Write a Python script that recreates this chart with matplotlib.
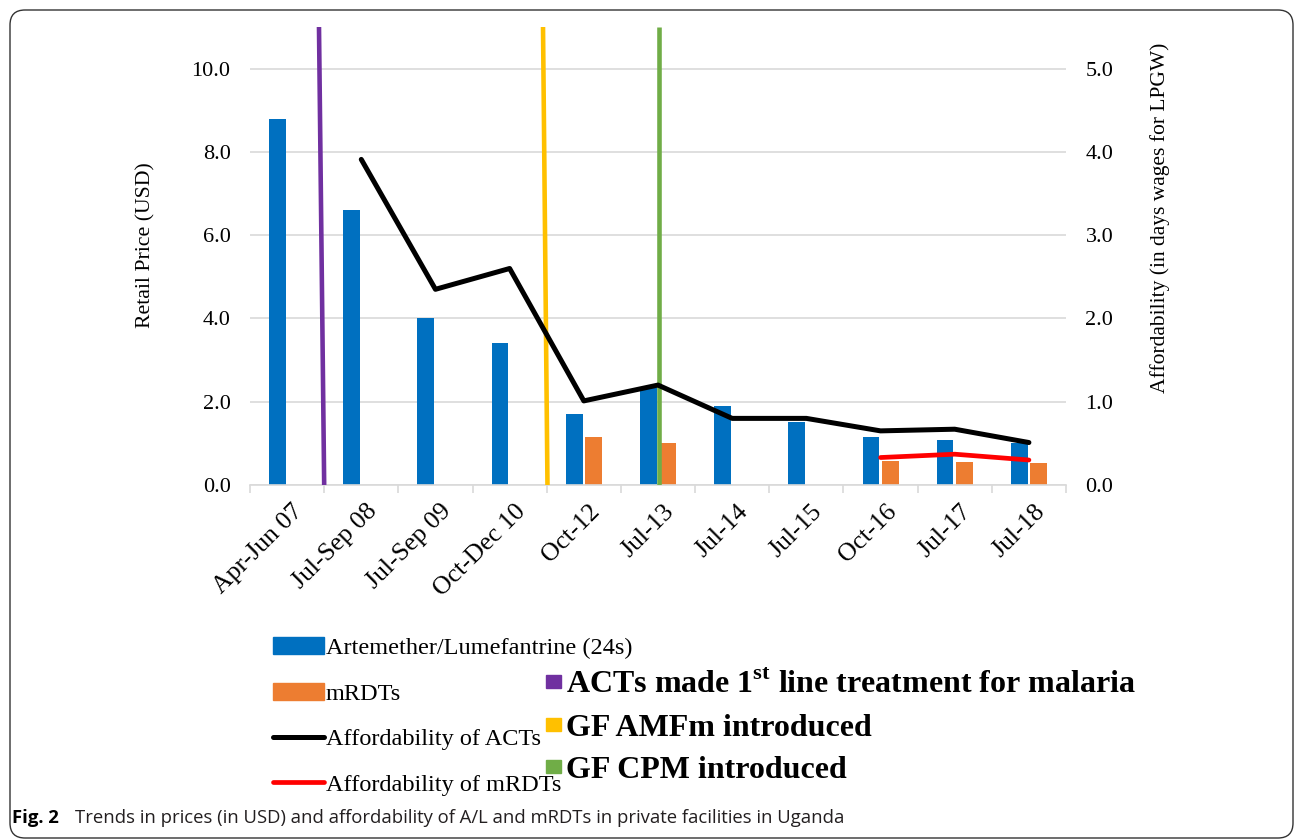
import matplotlib
matplotlib.use("Agg")
import matplotlib.pyplot as plt
from matplotlib.lines import Line2D
from matplotlib.patches import Patch, FancyBboxPatch
from matplotlib.transforms import ScaledTranslation
import numpy as np

plt.rcParams['font.family'] = ['Liberation Serif', 'DejaVu Serif']
plt.rcParams['mathtext.fontset'] = 'custom'
plt.rcParams['mathtext.bf'] = 'Liberation Serif:bold'

# data
periods = ['Apr-Jun 07', 'Jul-Sep 08', 'Jul-Sep 09', 'Oct-Dec 10', 'Oct-12', 'Jul-13',
           'Jul-14', 'Jul-15', 'Oct-16', 'Jul-17', 'Jul-18']
al_price = [8.80, 6.61, 4.00, 3.40, 1.70, 2.33, 1.90, 1.51, 1.15, 1.09, 1.02]
mrdt_price = [np.nan, np.nan, np.nan, np.nan, 1.15, 1.00, np.nan, np.nan, 0.58, 0.55, 0.53]
act_afford = [np.nan, 3.91, 2.35, 2.60, 1.01, 1.20, 0.80, 0.80, 0.65, 0.67, 0.51]
mrdt_afford = [np.nan] * 8 + [0.33, 0.37, 0.30]

# policy events: position on the category axis (top end, bottom end)
event_names = ['ACTs made 1$^{\\mathbf{st}}$ line treatment for malaria',
               'GF AMFm introduced', 'GF CPM introduced']
event_x_top = [0.43, 3.45, 5.01]
event_x_bottom = [0.50, 3.51, 5.01]
event_colors = ['#7030A0', '#FFC000', '#70AD47']

blue = '#0070C0'
orange = '#ED7D31'
grid_c = '#D9D9D9'

fig = plt.figure(figsize=(12.96, 8.39), dpi=100)
W, H = 1296, 839
ax = fig.add_axes([250 / W, 1 - 485 / H, 816 / W, 458 / H])
ax2 = ax.twinx()

x = np.arange(len(periods))
bw = 0.225
ax.bar(x - 0.13, al_price, bw, color=blue, zorder=2)
ax.bar(x + 0.13, mrdt_price, bw, color=orange, zorder=2)

for xt, xb, c in zip(event_x_top, event_x_bottom, event_colors):
    ax.plot([xt, xb], [11, 0], color=c, lw=3.3, zorder=3, solid_capstyle='butt')

ax2.plot(x, act_afford, color='black', lw=3.6, solid_capstyle='round', zorder=4)
ax2.plot(x, mrdt_afford, color='#FF0000', lw=3.4, solid_capstyle='round', zorder=4)

ax.set_xlim(-0.5, len(periods) - 0.5)
ax.set_ylim(0, 11)
ax2.set_ylim(0, 5.5)
ax.set_yticks(np.arange(0, 11, 2.0))
ax.set_yticklabels([f'{v:.1f}' for v in np.arange(0, 11, 2.0)])
ax2.set_yticks(np.arange(0, 5.5, 1.0))
ax2.set_yticklabels([f'{v:.1f}' for v in np.arange(0, 5.5, 1.0)])
ax.yaxis.grid(True, color=grid_c, lw=1.2, zorder=0)
ax.set_axisbelow(True)

for a in (ax, ax2):
    for s in a.spines.values():
        s.set_visible(False)
ax.spines['bottom'].set_visible(True)
ax.spines['bottom'].set_color(grid_c)
ax.spines['bottom'].set_linewidth(1.2)

ax.tick_params(axis='y', length=0, labelsize=16, pad=14)
ax2.tick_params(axis='y', length=0, labelsize=16, pad=14)

ax.set_xticks(x)
ax.set_xticklabels(periods, rotation=45, ha='right', va='top', rotation_mode='anchor', fontsize=18.5)
ax.set_xticks(np.arange(-0.5, len(periods)), minor=True)
ax.tick_params(axis='x', which='major', length=0, pad=11)
ax.tick_params(axis='x', which='minor', length=6, color=grid_c, width=1.2)
shift = ScaledTranslation(5 / 100, 0, fig.dpi_scale_trans)
for lab in ax.get_xticklabels():
    lab.set_transform(lab.get_transform() + shift)

ax.set_ylabel('Retail Price (USD)', fontsize=15.7)
ax.yaxis.set_label_coords((155 - 250) / 816, 0.524)
ax2.set_ylabel('Affordability (in days wages for LPGW)', fontsize=15.5)
ax2.yaxis.set_label_coords((1150 - 250) / 816, 0.583)

left_handles = [Patch(color=blue), Patch(color=orange),
                Line2D([], [], color='black', lw=3.6, solid_capstyle='round'),
                Line2D([], [], color='#FF0000', lw=3.4, solid_capstyle='round')]
left_labels = ['Artemether/Lumefantrine (24s)', 'mRDTs', 'Affordability of ACTs',
               'Affordability of mRDTs']
fig.legend(left_handles, left_labels, loc='upper left', bbox_to_anchor=(273 / W, 1 - 637 / H),
           frameon=False, fontsize=17.5, handlelength=2.1, handletextpad=0.08,
           labelspacing=0.97, borderpad=0, borderaxespad=0)

right_handles = [Patch(color=c) for c in event_colors]
fig.legend(right_handles, event_names, loc='upper left', bbox_to_anchor=(546 / W, 1 - 671 / H),
           frameon=False, prop={'size': 23, 'weight': 'bold'}, handlelength=0.47,
           handleheight=0.25, handletextpad=0.15, labelspacing=0.42, borderpad=0,
           borderaxespad=0)

fig.text(12 / W, 1 - 818 / H, 'Fig. 2', fontsize=13.3, fontweight='bold',
         family=['Open Sans', 'DejaVu Sans'], va='center')
fig.text(75 / W, 1 - 818 / H,
         'Trends in prices (in USD) and affordability of A/L and mRDTs in private facilities in Uganda',
         fontsize=13.3, family=['Open Sans', 'DejaVu Sans'], va='center', color='#231F20')

frame = FancyBboxPatch((0.10, 0.01), 12.83, 8.28, boxstyle='round,pad=0,rounding_size=0.15',
                       transform=fig.dpi_scale_trans, fill=False, ec='#333333', lw=1.0)
fig.patches.append(frame)

fig.savefig('out.png', dpi=100)
